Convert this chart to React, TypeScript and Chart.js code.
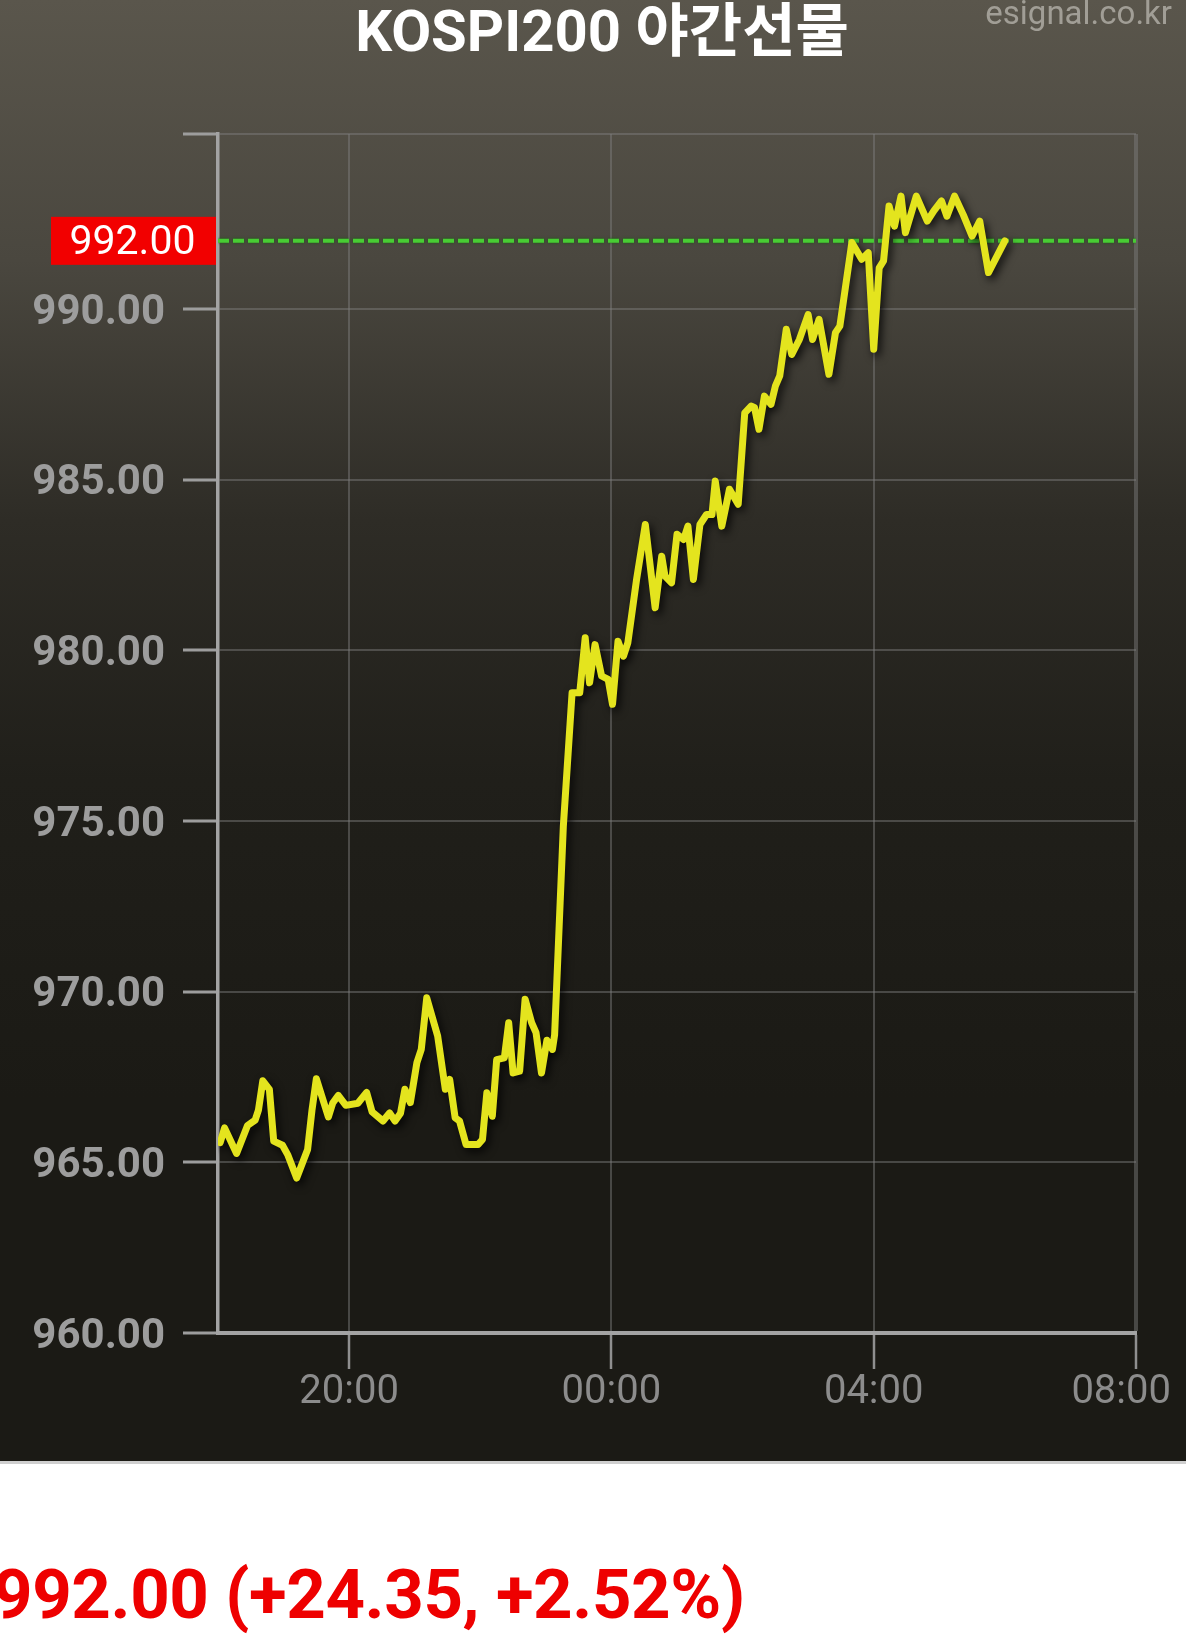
import React, { useEffect, useRef } from "react";
import { Chart, registerables } from "chart.js";

Chart.register(...registerables);

// ---- data ----
const times = [
  "18:02", "18:06", "18:17", "18:27", "18:34", "18:37", "18:41", "18:47", "18:51", "18:59",
  "19:04", "19:12", "19:22", "19:26", "19:30", "19:41", "19:45", "19:50", "19:57", "20:08",
  "20:16", "20:21", "20:31", "20:37", "20:42", "20:47", "20:51", "20:56", "21:02", "21:06",
  "21:11", "21:21", "21:28", "21:32", "21:37", "21:41", "21:47", "21:58", "22:02", "22:06",
  "22:11", "22:15", "22:22", "22:26", "22:30", "22:36", "22:41", "22:47", "22:51", "22:56",
  "23:01", "23:06", "23:08", "23:16", "23:24", "23:31", "23:36", "23:40", "23:45", "23:51",
  "23:57", "00:01", "00:06", "00:11", "00:15", "00:23", "00:31", "00:40", "00:46", "00:49",
  "00:55", "01:00", "01:06", "01:10", "01:15", "01:21", "01:27", "01:32", "01:35", "01:41",
  "01:48", "01:56", "02:02", "02:08", "02:11", "02:15", "02:20", "02:26", "02:30", "02:34",
  "02:40", "02:45", "02:52", "03:00", "03:04", "03:10", "03:19", "03:25", "03:29", "03:40",
  "03:49", "03:55", "04:00", "04:05", "04:09", "04:14", "04:19", "04:25", "04:29", "04:39",
  "04:49", "04:55", "05:02", "05:07", "05:14", "05:22", "05:30", "05:37", "05:45", "06:00",
];

const values = [
  965.58, 966.01, 965.26, 966.08, 966.24, 966.53, 967.39, 967.14, 965.62, 965.5,
  965.21, 964.54, 965.38, 966.53, 967.45, 966.33, 966.74, 966.96, 966.67, 966.73,
  967.05, 966.48, 966.21, 966.45, 966.21, 966.44, 967.14, 966.75, 967.92, 968.31,
  969.82, 968.7, 967.14, 967.43, 966.31, 966.21, 965.52, 965.52, 965.67, 967.04,
  966.35, 968.01, 968.06, 969.09, 967.62, 967.67, 969.78, 969.09, 968.8, 967.62,
  968.58, 968.31, 968.73, 974.85, 978.76, 978.76, 980.37, 979.05, 980.17, 979.25,
  979.15, 978.42, 980.27, 979.83, 980.22, 982.08, 983.69, 981.25, 982.76, 982.18,
  981.98, 983.4, 983.25, 983.64, 982.08, 983.69, 983.98, 983.98, 984.96, 983.64,
  984.72, 984.28, 986.96, 987.16, 987.11, 986.48, 987.45, 987.21, 987.74, 988.04,
  989.41, 988.67, 989.11, 989.84, 989.11, 989.7, 988.09, 989.31, 989.5, 991.95,
  991.46, 991.65, 988.82, 991.21, 991.41, 993.02, 992.43, 993.31, 992.24, 993.31,
  992.58, 992.88, 993.17, 992.72, 993.31, 992.76, 992.14, 992.58, 991.07, 992.0,
];

const lastPrice = 992.0;
const changeText = "992.00 (+24.35, +2.52%)";
const titleText = "KOSPI200 야간선물";
const sourceText = "esignal.co.kr";

const yMin = 960;
const yMax = 995.13;
const yTickValues = [960, 965, 970, 975, 980, 985, 990];
const xStartLabel = "18:00";
const xEndLabel = "08:00";
const xTickLabels = ["20:00", "00:00", "04:00", "08:00"];

// session runs past midnight: hours before noon belong to the next day
function toHours(t: string): number {
  const [h, m] = t.split(":").map(Number);
  return (h < 12 ? h + 24 : h) + m / 60;
}
function hoursToLabel(v: number): string {
  const h = Math.floor(v + 1e-6) % 24;
  const m = Math.round((v - Math.floor(v + 1e-6)) * 60);
  return String(h).padStart(2, "0") + ":" + String(m).padStart(2, "0");
}

const W = 1186;
const PANEL_H = 1461;

export default function App() {
  const canvasRef = useRef<HTMLCanvasElement | null>(null);

  useEffect(() => {
    const canvas = canvasRef.current;
    if (!canvas) return;

    const linePoints = times.map((t, i) => ({ x: toHours(t), y: values[i] }));
    const xMin = toHours(xStartLabel);
    const xMax = toHours(xEndLabel);
    const xTicks = xTickLabels.map(toHours);

    const shadowPlugin = {
      id: "lineShadow",
      beforeDatasetDraw(chart: any, args: any) {
        const ctx = chart.ctx;
        ctx.save();
        if (args.index === 0) {
          ctx.shadowColor = "rgba(0,0,0,0.8)";
          ctx.shadowBlur = 8;
          ctx.shadowOffsetX = 3;
          ctx.shadowOffsetY = 4;
        } else {
          ctx.shadowColor = "rgba(20,90,10,0.9)";
          ctx.shadowBlur = 3;
        }
      },
      afterDatasetDraw(chart: any) {
        chart.ctx.restore();
      },
    };

    const overlayPlugin = {
      id: "overlay",
      afterDraw(chart: any) {
        const ctx = chart.ctx;
        const xs = chart.scales.x;
        const ys = chart.scales.y;
        ctx.save();
        // x tick labels (last one kept inside the canvas)
        ctx.font = "40px Roboto";
        ctx.fillStyle = "#8c8c8c";
        ctx.textAlign = "center";
        ctx.textBaseline = "alphabetic";
        xs.ticks.forEach((t: any) => {
          const label = hoursToLabel(t.value);
          const w = ctx.measureText(label).width;
          let px = xs.getPixelForValue(t.value);
          if (px + w / 2 > chart.width - 15) px = chart.width - 15 - w / 2;
          ctx.fillText(label, px, xs.top + 70);
        });
        // current price tag
        const py = ys.getPixelForValue(lastPrice);
        ctx.fillStyle = "#f20000";
        ctx.fillRect(51, py - 24, 165, 48);
        ctx.fillStyle = "#ffffff";
        ctx.font = "41px Roboto";
        ctx.textAlign = "center";
        ctx.fillText(lastPrice.toFixed(2), 132.5, py + 13);
        ctx.restore();
      },
    };

    const chart = new Chart(canvas, {
      type: "line",
      data: {
        datasets: [
          {
            data: linePoints,
            borderColor: "#e4e41e",
            borderWidth: 7,
            pointRadius: 0,
            tension: 0,
            borderJoinStyle: "round",
            borderCapStyle: "round",
            order: 0,
          },
          {
            data: [
              { x: xMin, y: lastPrice },
              { x: xMax, y: lastPrice },
            ],
            borderColor: "#48cc34",
            borderWidth: 4,
            borderDash: [11, 4],
            pointRadius: 0,
            order: 1,
          },
        ],
      } as any,
      options: {
        animation: false,
        responsive: false,
        devicePixelRatio: 1,
        layout: { padding: { top: 134, right: 50, left: 0, bottom: 0 } },
        plugins: {
          legend: { display: false },
          tooltip: { enabled: false },
        },
        scales: {
          x: {
            type: "linear",
            min: xMin,
            max: xMax,
            afterBuildTicks: (s: any) => {
              s.ticks = xTicks.map((v) => ({ value: v }));
            },
            afterFit: (s: any) => {
              s.height = PANEL_H - 1333;
            },
            ticks: { display: false },
            grid: {
              color: "rgba(128,128,128,0.45)",
              lineWidth: (c: any) => (c.tick && c.tick.value === xMax ? 4 : 2),
              tickColor: "#8f8f8f",
              tickLength: 36,
              tickWidth: 2.5,
            },
            border: { color: "#a3a3a3", width: 4 },
          },
          y: {
            type: "linear",
            min: yMin,
            max: yMax,
            afterBuildTicks: (s: any) => {
              s.ticks = [...yTickValues, yMax].map((v) => ({ value: v }));
            },
            afterFit: (s: any) => {
              s.width = 218;
            },
            ticks: {
              callback: (v: any) => (yTickValues.includes(Number(v)) ? Number(v).toFixed(2) : ""),
              color: "#9d9d9d",
              font: { family: "Roboto", size: 42, weight: "bold" },
              padding: 18,
              labelOffset: 4,
            },
            grid: {
              color: "rgba(128,128,128,0.45)",
              lineWidth: 2,
              tickColor: "#9d9d9d",
              tickLength: 35,
              tickWidth: 3,
            },
            border: { color: "#a3a3a3", width: 3.5 },
          },
        },
      } as any,
      plugins: [shadowPlugin, overlayPlugin] as any,
    });

    return () => chart.destroy();
  }, []);

  return (
    <div
      style={{
        position: "absolute",
        left: 0,
        top: 0,
        width: W,
        height: 1640,
        overflow: "hidden",
        background: "#ffffff",
        fontFamily: "Roboto, 'Noto Sans CJK KR', sans-serif",
      }}
    >
      <div
        style={{
          position: "absolute",
          left: 0,
          top: 0,
          width: W,
          height: PANEL_H,
          background:
            "linear-gradient(to bottom, #5a564c 0px, #4a473f 260px, #2e2c26 520px, #201f1a 780px, #1b1a15 1100px, #1b1a15 1461px)",
          borderBottom: "3px solid #cfcfcf",
        }}
      />
      <canvas
        ref={canvasRef}
        width={W}
        height={PANEL_H}
        style={{ position: "absolute", left: 0, top: 0, width: W, height: PANEL_H }}
      />
      <div
        style={{
          position: "absolute",
          left: 602,
          top: 2,
          transform: "translateX(-50%)",
          whiteSpace: "nowrap",
          color: "#ffffff",
          fontWeight: 700,
          fontSize: 58,
          lineHeight: "58px",
          fontFamily: "Roboto, 'Noto Sans CJK KR', sans-serif",
        }}
      >
        {titleText}
      </div>
      <div
        style={{
          position: "absolute",
          right: 14,
          top: -4,
          whiteSpace: "nowrap",
          color: "#a19e96",
          fontSize: 33,
          lineHeight: "33px",
          fontFamily: "Roboto, sans-serif",
        }}
      >
        {sourceText}
      </div>
      <div
        style={{
          position: "absolute",
          left: -7,
          top: 1560,
          whiteSpace: "nowrap",
          color: "#ee0000",
          fontWeight: 700,
          fontSize: 69,
          lineHeight: "69px",
          letterSpacing: "-0.4px",
          fontFamily: "Roboto, sans-serif",
        }}
      >
        {changeText}
      </div>
    </div>
  );
}
